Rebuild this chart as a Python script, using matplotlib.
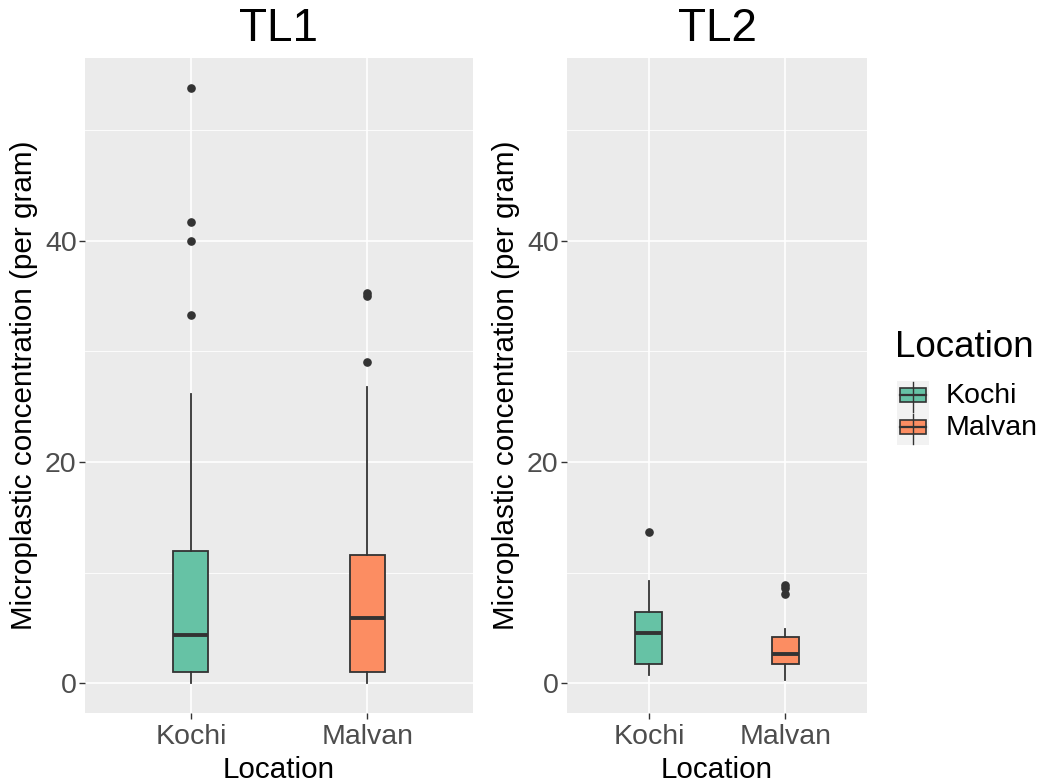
import matplotlib
matplotlib.use('Agg')
import matplotlib.pyplot as plt
from matplotlib.patches import Rectangle

plt.rcParams['font.family'] = ['Liberation Sans', 'DejaVu Sans']

# box summaries (per gram)
locations = ['Kochi', 'Malvan']
colors = ['#66C2A5', '#FC8D62']

tl1_whislo = [0.0, 0.0]
tl1_q1 = [1.05, 1.05]
tl1_med = [4.35, 5.9]
tl1_q3 = [11.95, 11.55]
tl1_whishi = [26.1, 26.8]
tl1_fliers = [[33.3, 40.0, 41.7, 53.8], [29.0, 35.0, 35.3]]

tl2_whislo = [0.7, 0.3]
tl2_q1 = [1.7, 1.7]
tl2_med = [4.5, 2.6]
tl2_q3 = [6.4, 4.2]
tl2_whishi = [9.2, 4.9]
tl2_fliers = [[13.7], [8.1, 8.6, 8.9]]

W, H = 1045, 784
fig = plt.figure(figsize=(W / 100, H / 100), dpi=100)

BG = '#EBEBEB'
DARK = '#333333'

def px_rect(x0, y0, x1, y1):
    return [x0 / W, 1 - y1 / H, (x1 - x0) / W, (y1 - y0) / H]

def make_stats(whislo, q1, med, q3, whishi, fliers):
    stats = []
    for i in range(len(locations)):
        stats.append({'whislo': whislo[i], 'q1': q1[i], 'med': med[i],
                      'q3': q3[i], 'whishi': whishi[i], 'fliers': fliers[i],
                      'label': locations[i]})
    return stats

# shared y scale, ggplot style 5% expansion
all_vals = tl1_whislo + tl1_whishi + tl2_whislo + tl2_whishi
for f in tl1_fliers + tl2_fliers:
    all_vals += f
lo, hi = min(all_vals), max(all_vals)
pad = (hi - lo) * 0.05

def draw_panel(ax, stats, title):
    ax.set_facecolor(BG)
    for s in ax.spines.values():
        s.set_visible(False)
    ax.set_yticks([0, 20, 40])
    ax.set_yticks([10, 30, 50], minor=True)
    ax.grid(True, which='major', color='white', linewidth=1.2)
    ax.grid(True, which='minor', axis='y', color='white', linewidth=0.6)
    ax.set_axisbelow(True)
    bp = ax.bxp(stats, positions=[1, 2], widths=0.2, patch_artist=True,
                showcaps=False,
                boxprops=dict(edgecolor=DARK, linewidth=1.3),
                whiskerprops=dict(color=DARK, linewidth=1.3),
                medianprops=dict(color=DARK, linewidth=2.8),
                flierprops=dict(marker='o', markersize=5.2, markerfacecolor=DARK,
                                markeredgecolor=DARK))
    for patch, c in zip(bp['boxes'], colors):
        patch.set_facecolor(c)
    ax.set_xlim(0.4, 2.6)
    ax.set_ylim(lo - pad, hi + pad)
    ax.set_xticks([1, 2])
    ax.set_xticklabels(locations)
    ax.tick_params(which='major', length=4, width=1.0, color=DARK,
                   labelcolor='#4D4D4D', labelsize=20.5, pad=2)
    ax.tick_params(axis='x', which='major', pad=4)
    ax.tick_params(which='minor', length=0)
    ax.set_xlabel('Location', fontsize=21.3, labelpad=4)
    ax.set_ylabel('Microplastic concentration (per gram)', fontsize=21.3, labelpad=5)
    ax.set_title(title, fontsize=33, pad=12)

ax1 = fig.add_axes(px_rect(85, 58, 473, 713))
draw_panel(ax1, make_stats(tl1_whislo, tl1_q1, tl1_med, tl1_q3, tl1_whishi, tl1_fliers), 'TL1')

ax2 = fig.add_axes(px_rect(567, 58, 867, 713))
draw_panel(ax2, make_stats(tl2_whislo, tl2_q1, tl2_med, tl2_q3, tl2_whishi, tl2_fliers), 'TL2')

# legend, drawn like ggplot's boxplot keys
lg = fig.add_axes(px_rect(880, 320, 1045, 460))
lg.set_xlim(880, 1045)
lg.set_ylim(460, 320)
lg.axis('off')
lg.text(895, 347, 'Location', fontsize=26.5, va='center', ha='left')
for i, (name, c) in enumerate(zip(locations, colors)):
    y0 = 381 + i * 32
    lg.add_patch(Rectangle((897, y0), 32, 32, facecolor='#F2F2F2', edgecolor='none'))
    lg.plot([913, 913], [y0 + 1, y0 + 31], color=DARK, linewidth=1.0)
    lg.add_patch(Rectangle((900, y0 + 7), 26, 14, facecolor=c, edgecolor=DARK, linewidth=1.2))
    lg.plot([900, 926], [y0 + 14, y0 + 14], color=DARK, linewidth=1.6)
    lg.text(946, y0 + 15, name, fontsize=20.5, va='center', ha='left')

fig.savefig('out.png', dpi=100)
